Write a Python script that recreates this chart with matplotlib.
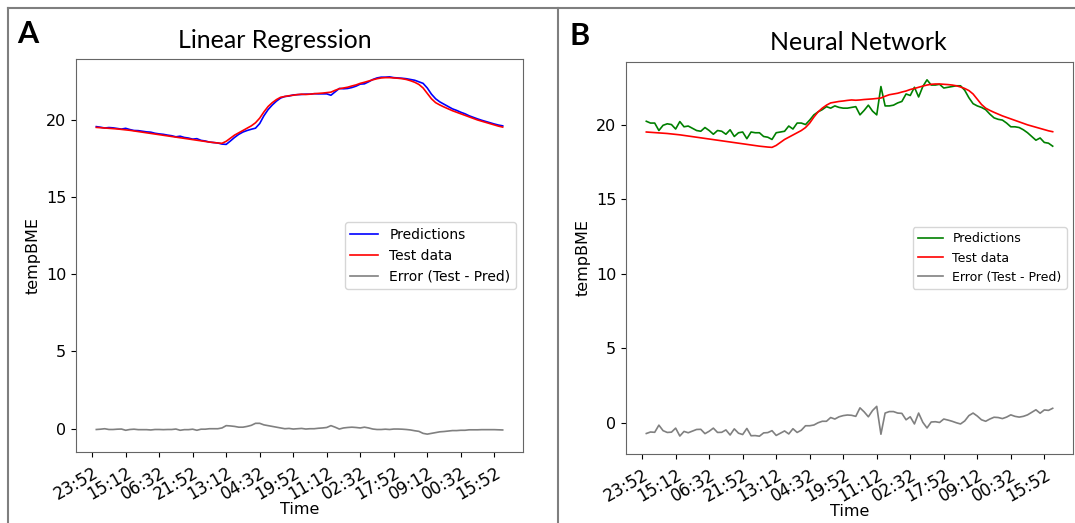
import matplotlib.pyplot as plt
import numpy as np
from matplotlib.lines import Line2D

# tick labels on the time axis (one every 8 samples)
time_labels = ["23:52", "15:12", "06:32", "21:52", "13:12", "04:32", "19:52",
               "11:12", "02:32", "17:52", "09:12", "00:32", "15:52"]

# measured temperature (test data), shared by both panels
test_data = [19.50, 19.48, 19.46, 19.44, 19.42, 19.40, 19.37, 19.34, 19.31, 19.27,
             19.23, 19.19, 19.15, 19.11, 19.07, 19.03, 18.99, 18.95, 18.91, 18.87,
             18.83, 18.79, 18.75, 18.71, 18.67, 18.63, 18.59, 18.55, 18.52, 18.49,
             18.47, 18.60, 18.80, 19.00, 19.15, 19.30, 19.45, 19.60, 19.80, 20.10,
             20.50, 20.85, 21.10, 21.30, 21.45, 21.50, 21.55, 21.58, 21.62, 21.65,
             21.63, 21.65, 21.68, 21.70, 21.72, 21.75, 21.78, 21.90, 22.00, 22.05,
             22.10, 22.18, 22.25, 22.35, 22.42, 22.50, 22.58, 22.65, 22.70, 22.72,
             22.72, 22.70, 22.68, 22.65, 22.60, 22.52, 22.42, 22.28, 22.05, 21.70,
             21.35, 21.10, 20.95, 20.82, 20.70, 20.58, 20.48, 20.38, 20.28, 20.18,
             20.08, 19.98, 19.90, 19.82, 19.74, 19.66, 19.58, 19.52]

# linear regression predictions
pred_lr = [19.55, 19.51, 19.46, 19.49, 19.47, 19.43, 19.39, 19.44, 19.36, 19.30,
           19.29, 19.25, 19.21, 19.19, 19.12, 19.08, 19.05, 19.00, 18.96, 18.89,
           18.93, 18.85, 18.81, 18.74, 18.77, 18.66, 18.62, 18.55, 18.52, 18.49,
           18.42, 18.40, 18.62, 18.85, 19.05, 19.20, 19.30, 19.38, 19.45, 19.75,
           20.25, 20.65, 20.95, 21.20, 21.40, 21.50, 21.53, 21.60, 21.62, 21.63,
           21.65, 21.65, 21.68, 21.67, 21.67, 21.67, 21.58, 21.80, 22.02, 22.00,
           22.02, 22.08, 22.17, 22.30, 22.32, 22.45, 22.60, 22.70, 22.75, 22.75,
           22.77, 22.72, 22.70, 22.68, 22.65, 22.60, 22.55, 22.45, 22.35, 22.05,
           21.65, 21.35, 21.15, 21.00, 20.85, 20.70, 20.60, 20.48, 20.38, 20.25,
           20.15, 20.05, 19.96, 19.88, 19.80, 19.72, 19.65, 19.60]

# neural network predictions
pred_nn = [20.22, 20.10, 20.10, 19.60, 19.95, 20.05, 20.00, 19.70, 20.20, 19.85,
           19.90, 19.75, 19.60, 19.55, 19.80, 19.60, 19.35, 19.60, 19.55, 19.35,
           19.65, 19.20, 19.45, 19.50, 19.05, 19.50, 19.45, 19.45, 19.20, 19.15,
           19.00, 19.45, 19.50, 19.55, 19.90, 19.70, 20.10, 20.10, 20.00, 20.30,
           20.65, 20.85, 21.00, 21.20, 21.10, 21.25, 21.15, 21.10, 21.10, 21.15,
           21.20, 20.65, 20.95, 21.30, 20.90, 20.65, 22.55, 21.25, 21.25, 21.30,
           21.45, 21.55, 22.05, 21.95, 22.50, 21.85, 22.55, 23.00, 22.65, 22.65,
           22.70, 22.45, 22.50, 22.55, 22.60, 22.60, 22.30, 21.80, 21.40, 21.25,
           21.15, 21.00, 20.70, 20.45, 20.35, 20.30, 20.10, 19.85, 19.85, 19.80,
           19.65, 19.45, 19.20, 18.95, 19.10, 18.80, 18.75, 18.55]

test = np.array(test_data)
x = np.arange(len(test))
tick_pos = -1 + 8 * np.arange(len(time_labels))

W, H = 1075, 523
fig = plt.figure(figsize=(W / 100, H / 100), dpi=100)

# panel frames
frame = dict(color="#7f7f7f", lw=1.5, transform=fig.transFigure)
fig.add_artist(Line2D([8 / W, 1], [1 - 8 / H, 1 - 8 / H], **frame))
fig.add_artist(Line2D([8 / W, 8 / W], [0, 1 - 8 / H], **frame))
fig.add_artist(Line2D([558 / W, 558 / W], [0, 1 - 8 / H], **frame))

panels = [
    ("A", "Linear Regression", pred_lr, "blue", [76, 59, 523, 452], (17, 34), (275, 40), 10),
    ("B", "Neural Network", pred_nn, "green", [626, 62, 1073, 454], (569, 36), (858, 43), 9),
]

for letter, title, pred, col, box, lpos, tpos, lfs in panels:
    l, t, r, b = box
    ax = fig.add_axes([l / W, 1 - b / H, (r - l) / W, (b - t) / H])
    pred = np.array(pred)
    ax.plot(x, pred, color=col, lw=1.2, label="Predictions")
    ax.plot(x, test, color="red", lw=1.2, label="Test data")
    ax.plot(x, test - pred, color="gray", lw=1.2, label="Error (Test - Pred)")
    ax.set_xticks(tick_pos)
    ax.set_xticklabels(time_labels, rotation=30, ha="right", fontsize=12,
                       rotation_mode="anchor")
    ax.tick_params(axis="x", pad=5)
    ax.set_yticks([0, 5, 10, 15, 20])
    ax.tick_params(axis="y", labelsize=11.5)
    ax.set_xlabel("Time", fontsize=11.5, labelpad=-1)
    ax.set_ylabel("tempBME", fontsize=11.5)
    for s in ax.spines.values():
        s.set_color("#666666")
    ax.legend(loc="center right", fontsize=lfs)
    fig.text(lpos[0] / W, 1 - lpos[1] / H, letter, fontsize=22, fontweight="bold",
             family="Lato", va="center")
    fig.text(tpos[0] / W, 1 - tpos[1] / H, title, fontsize=18, family="Lato",
             ha="center", va="center")

fig.savefig("out.png", dpi=100)
